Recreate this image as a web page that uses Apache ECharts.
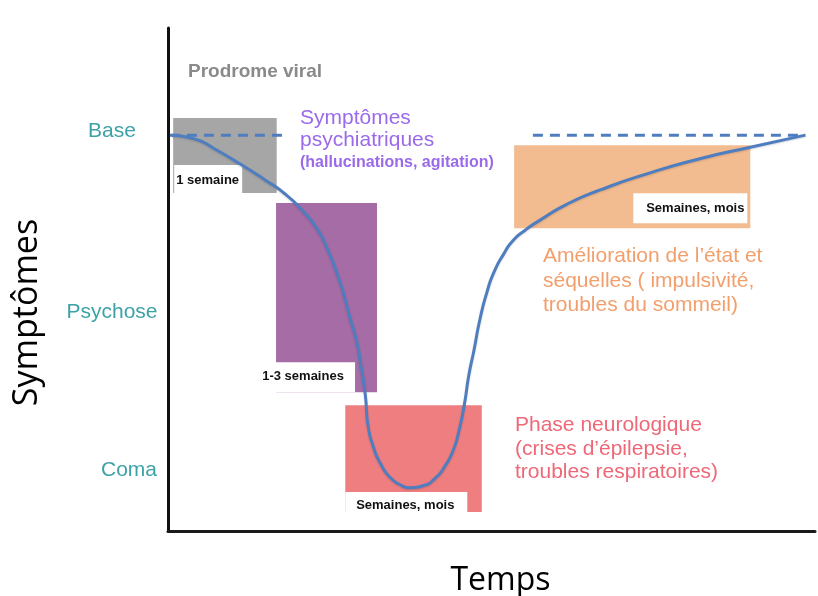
<!DOCTYPE html>
<html>
<head>
<meta charset="utf-8">
<script src="https://cdn.jsdelivr.net/npm/echarts@6/dist/echarts.min.js"></script>
<style>html,body{margin:0;padding:0;background:#fff;}#c{width:818px;height:596px;}</style>
</head>
<body>
<div id="c"></div>
<script>
// ---- data ----
var levelValues = [12.1, 43.5, 79.5];
var levelLabels = ['Coma', 'Psychose', 'Base'];
var baselineValue = 78.7;
var baselineSegments = [[0.3, 18.1], [56.4, 98.5]];

var phaseNames = ['Prodrome viral', 'Symptômes psychiatriques', 'Phase neurologique', 'Amélioration'];
var phaseStart = [0.8, 16.7, 27.4, 53.5];
var phaseEnd = [16.8, 32.3, 48.5, 90.0];
var phaseTop = [82.1, 65.2, 25.0, 76.7];
var phaseBottom = [67.2, 27.6, 3.8, 60.2];
var durationLabels = ['1 semaine', '1-3 semaines', 'Semaines, mois', 'Semaines, mois'];

var curveX = [0.6, 4.2, 7.3, 11.6, 15.0, 18.1, 20.7, 23.0, 24.7, 26.1, 27.2, 28.1, 29.1, 29.8, 30.5, 30.9, 31.8, 32.8, 34.3, 35.9, 37.4, 39.4, 41.3, 42.8, 44.1, 45.0, 45.8, 46.5, 47.3, 48.2, 49.3, 50.4, 51.8, 53.3, 55.2, 57.5, 61.7, 66.8, 74.5, 82.2, 90.0, 98.5];
var curveY = [78.7, 77.9, 75.9, 72.6, 69.8, 67.0, 63.8, 60.2, 55.9, 51.3, 46.9, 42.5, 38.0, 33.0, 27.0, 21.1, 16.5, 13.5, 10.7, 9.2, 8.6, 9.0, 10.5, 12.9, 16.1, 20.1, 25.1, 31.0, 36.0, 42.0, 47.5, 51.5, 54.9, 57.7, 59.8, 61.8, 65.0, 67.8, 71.2, 74.0, 76.3, 78.7];

// ---- styles ----
var phaseColors = ['#a6a6a6', '#a56ca5', '#ef7e80', '#f2bb90'];
var curveColor = '#4f7ec0';
var sans = '"Liberation Sans", Arial, sans-serif';

var curveData = curveX.map(function (x, i) { return [x, curveY[i]]; });
var baseData = [];
baselineSegments.forEach(function (s, i) {
  if (i > 0) baseData.push([s[0] - 0.01, null]);
  baseData.push([s[0], baselineValue]);
  baseData.push([s[1], baselineValue]);
});
var phaseData = phaseNames.map(function (n, i) {
  return [phaseStart[i], phaseEnd[i], phaseTop[i], phaseBottom[i], i];
});

// label box placement, pixels relative to the phase rectangle
function boxFor(i, L, T, R, B) {
  if (i === 0) return { x: L + 1, y: B - 28, w: 68, h: 28, tx: L + 3, ty: B - 13, align: 'left' };
  if (i === 1) return { x: L - 1, y: B - 30, w: 80, h: 30, tx: L + 27, ty: B - 16, align: 'center' };
  if (i === 2) return { x: L, y: B - 20, w: 122, h: 20, tx: L + 60, ty: B - 6, align: 'center' };
  return { x: R - 117, y: B - 35, w: 114, h: 30, tx: R - 55, ty: B - 20, align: 'center' };
}

var chart = echarts.init(document.getElementById('c'), null, { renderer: 'canvas' });
chart.setOption({
  animation: false,
  backgroundColor: '#ffffff',
  grid: { left: 168, right: 3, top: 28, bottom: 65, containLabel: false, outerBoundsMode: 'none' },
  xAxis: {
    type: 'value', min: 0, max: 100,
    axisLine: { show: true, lineStyle: { color: '#1a1a1a', width: 3 } },
    axisTick: { show: false }, axisLabel: { show: false }, splitLine: { show: false },
    name: 'Temps', nameLocation: 'middle', nameGap: 34,
    nameTextStyle: { fontFamily: '"Open Sans", sans-serif', fontSize: 32, color: '#000', padding: [0, 0, 0, 18] }
  },
  yAxis: {
    type: 'value', min: 0, max: 100,
    axisLine: { show: true, lineStyle: { color: '#111', width: 3 } },
    axisTick: { show: false }, splitLine: { show: false },
    axisLabel: {
      customValues: levelValues,
      formatter: function (v) {
        var i = levelValues.indexOf(v);
        var t = i >= 0 ? levelLabels[i] : '';
        return t === 'Coma' ? '{c|' + t + '}' : t;
      },
      color: '#3da2a7', fontFamily: sans, fontSize: 21, align: 'center', margin: 56,
      rich: { c: { color: '#3da2a7', fontFamily: sans, fontSize: 21, padding: [0, 0, 0, 34] } }
    },
    name: 'Symptômes', nameLocation: 'middle', nameGap: 124, nameRotate: 90,
    nameTextStyle: { fontFamily: '"Open Sans", sans-serif', fontSize: 34, color: '#000', padding: [0, 66, 0, 0] }
  },
  series: [
    {
      type: 'custom', z: 1,
      data: phaseData,
      renderItem: function (params, api) {
        var i = api.value(4);
        var p0 = api.coord([api.value(0), api.value(2)]);
        var p1 = api.coord([api.value(1), api.value(3)]);
        var L = p0[0], T = p0[1], R = p1[0], B = p1[1];
        var b = boxFor(i, L, T, R, B);
        return {
          type: 'group',
          children: [
            { type: 'rect', shape: { x: L, y: T, width: R - L, height: B - T }, style: { fill: phaseColors[i] } },
            { type: 'rect', shape: { x: b.x, y: b.y, width: b.w, height: b.h }, style: { fill: '#ffffff' } },
            { type: 'text', style: { text: durationLabels[i], x: b.tx, y: b.ty, fill: '#111', fontFamily: sans, fontWeight: 'bold', fontSize: 13, align: b.align, verticalAlign: 'middle' } }
          ]
        };
      }
    },
    {
      type: 'line', z: 3, data: baseData, showSymbol: false, connectNulls: false,
      lineStyle: { color: curveColor, width: 3, type: [10, 7] }
    },
    {
      type: 'line', z: 4, data: curveData, showSymbol: false, smooth: 0.6,
      lineStyle: { color: curveColor, width: 3, shadowColor: 'rgba(0,0,0,0.15)', shadowBlur: 2, shadowOffsetY: 1 }
    }
  ],
  graphic: [
    { type: 'text', left: 188, top: 62, style: { text: 'Prodrome viral', fill: '#8a8a8a', fontFamily: sans, fontWeight: 'bold', fontSize: 19 } },
    { type: 'text', left: 300, top: 108, style: { text: 'Symptômes', fill: '#9a6aea', fontFamily: sans, fontSize: 21 } },
    { type: 'text', left: 300, top: 130, style: { text: 'psychiatriques', fill: '#9a6aea', fontFamily: sans, fontSize: 21 } },
    { type: 'text', left: 300, top: 155, style: { text: '(hallucinations, agitation)', fill: '#9a6aea', fontFamily: sans, fontWeight: 'bold', fontSize: 16 } },
    { type: 'text', left: 543, top: 246, style: { text: 'Amélioration de l\u2019état et', fill: '#f29f6c', fontFamily: sans, fontSize: 21 } },
    { type: 'text', left: 543, top: 271, style: { text: 'séquelles ( impulsivité,', fill: '#f29f6c', fontFamily: sans, fontSize: 21 } },
    { type: 'text', left: 543, top: 295, style: { text: 'troubles du sommeil)', fill: '#f29f6c', fontFamily: sans, fontSize: 21 } },
    { type: 'text', left: 515, top: 415, style: { text: 'Phase neurologique', fill: '#ee6877', fontFamily: sans, fontSize: 21 } },
    { type: 'text', left: 515, top: 439, style: { text: '(crises d\u2019épilepsie,', fill: '#ee6877', fontFamily: sans, fontSize: 21 } },
    { type: 'text', left: 515, top: 462, style: { text: 'troubles respiratoires)', fill: '#ee6877', fontFamily: sans, fontSize: 21 } }
  ]
});
</script>
</body>
</html>
